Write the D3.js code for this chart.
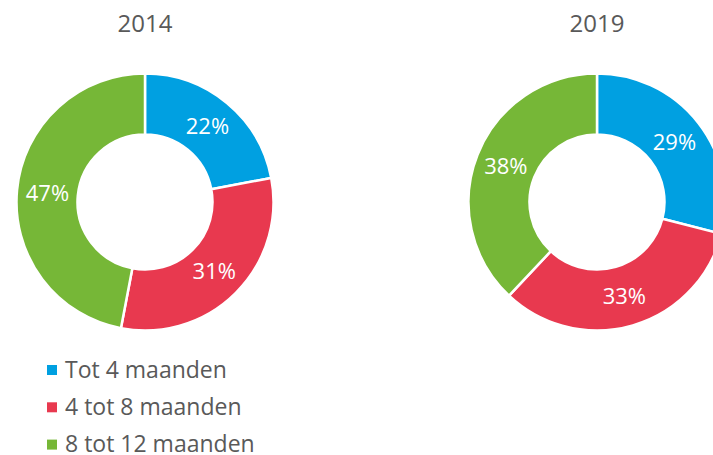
<!DOCTYPE html>
<html>
<head>
<meta charset="utf-8">
<script src="https://cdn.jsdelivr.net/npm/d3@7"></script>
<style>
  html, body { margin: 0; padding: 0; background: #fff; }
  svg { display: block; }
  text { font-family: "Open Sans", "Noto Sans", sans-serif; }
</style>
</head>
<body>
<svg id="chart" width="713" height="455"></svg>
<script>
const categories = ["Tot 4 maanden", "4 tot 8 maanden", "8 tot 12 maanden"];
const years = ["2014", "2019"];
const values2014 = [22, 31, 47];
const values2019 = [29, 33, 38];
const colors = ["#00A0E1", "#E8394F", "#76B737"];

const W = 713, H = 455;
const svg = d3.select("#chart");

const datasets = [
  { year: years[0], values: values2014, cx: 145, cy: 202 },
  { year: years[1], values: values2019, cx: 597, cy: 202 }
];

const color = d3.scaleOrdinal().domain(categories).range(colors);
const outerR = 128.5, innerR = 67.5;
const pie = d3.pie().sort(null).value(d => d.value);
const arc = d3.arc().innerRadius(innerR).outerRadius(outerR);

datasets.forEach(ds => {
  const data = categories.map((c, i) => ({ cat: c, value: ds.values[i] }));
  const g = svg.append("g").attr("transform", `translate(${ds.cx},${ds.cy})`);
  const arcs = pie(data);
  g.selectAll("path").data(arcs).join("path")
    .attr("d", arc)
    .attr("fill", d => color(d.data.cat))
    .attr("stroke", "#fff")
    .attr("stroke-width", 2.5)
    .attr("stroke-linejoin", "miter");
  g.selectAll("text.lbl").data(arcs).join("text")
    .attr("class", "lbl")
    .attr("x", d => arc.centroid(d)[0])
    .attr("y", d => arc.centroid(d)[1])
    .attr("dy", "0.36em")
    .attr("text-anchor", "middle")
    .attr("fill", "#fff")
    .attr("font-size", 22)
    .text(d => d.data.value + "%");
  svg.append("text")
    .attr("x", ds.cx)
    .attr("y", 31.5)
    .attr("text-anchor", "middle")
    .attr("fill", "#595959")
    .attr("font-size", 24)
    .text(ds.year);
});

const legend = svg.append("g");
const rows = legend.selectAll("g").data(categories).join("g")
  .attr("transform", (d, i) => `translate(47,${365 + i * 37.3})`);
rows.append("rect")
  .attr("width", 10).attr("height", 10)
  .attr("fill", d => color(d));
rows.append("text")
  .attr("x", 18)
  .attr("y", 12.5)
  .attr("fill", "#595959")
  .attr("font-size", 23)
  .text(d => d);
</script>
</body>
</html>
